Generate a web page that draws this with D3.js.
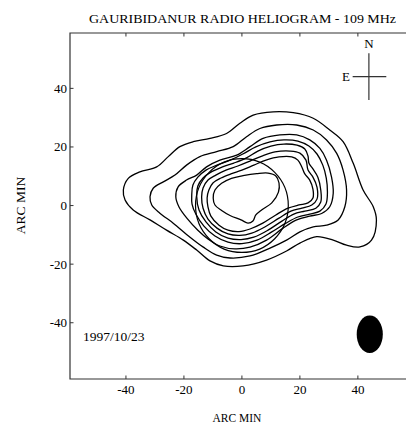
<!DOCTYPE html>
<html>
<head>
<meta charset="utf-8">
<script src="https://cdn.jsdelivr.net/npm/d3@7"></script>
<style>
  body { margin: 0; background: #fff; }
  svg { display: block; font-family: "Liberation Serif", "DejaVu Serif", serif; }
</style>
</head>
<body>
<svg width="406" height="426"></svg>
<script>
"use strict";

// heliogram contours, arc min (x east-west, y north-south), outer to inner
const contour1 = [[-40.9,5.3],[-39.2,9.3],[-35.2,11.5],[-29.4,13.2],[-25.4,16.7],[-21.4,20.1],[-16.8,21.8],[-11.0,22.9],[-5.3,24.6],[-0.7,28.1],[3.9,30.9],[10.8,32.0],[17.7,31.7],[24.6,29.8],[30.3,25.8],[34.9,21.8],[38.4,14.4],[41.8,5.3],[45.3,-0.4],[46.4,-4.9],[44.7,-11.8],[40.7,-14.1],[36.1,-13.5],[31.5,-11.8],[25.8,-10.6],[20.0,-12.8],[15.4,-15.5],[8.5,-18.6],[0.4,-20.6],[-6.4,-20.6],[-11.0,-18.9],[-15.6,-15.2],[-20.2,-11.8],[-26.0,-8.4],[-31.7,-4.9],[-37.5,-1.5],[-40.3,1.9]];
const contour2 = [[-31.7,3.0],[-30.6,5.9],[-27.1,8.1],[-23.1,10.4],[-19.1,13.8],[-14.5,16.7],[-8.7,18.4],[-3.0,20.1],[1.6,23.5],[6.2,26.3],[12.0,27.5],[18.9,27.5],[24.6,25.8],[29.2,22.4],[32.7,17.8],[34.9,12.1],[36.1,5.3],[35.5,-0.4],[33.2,-4.9],[29.2,-6.7],[24.6,-7.3],[20.0,-9.0],[15.4,-11.8],[9.7,-14.5],[2.8,-17.2],[-4.1,-17.9],[-8.7,-16.9],[-13.3,-14.2],[-17.9,-10.8],[-23.7,-6.0],[-28.3,-2.6],[-31.1,0.2]];
const contour3 = [[-22.8,3.0],[-22.0,6.4],[-19.1,8.7],[-15.6,10.4],[-12.2,13.2],[-7.6,15.5],[-1.8,17.2],[2.8,20.1],[7.3,22.9],[13.1,24.1],[18.9,24.1],[23.4,22.4],[26.9,19.5],[29.2,15.5],[30.9,9.8],[31.5,4.2],[30.3,-0.4],[27.5,-2.7],[23.4,-3.6],[18.9,-4.9],[14.2,-7.7],[8.5,-11.8],[2.8,-14.2],[-2.4,-14.8],[-7.6,-13.8],[-11.7,-11.4],[-15.2,-8.4],[-19.0,-4.3],[-21.7,-0.5]];
const contour4 = [[-17.3,3.6],[-16.9,7.0],[-15.2,9.7],[-12.4,12.1],[-8.6,13.8],[-4.1,15.5],[0.3,17.6],[4.8,20.0],[9.7,21.7],[14.5,22.4],[19.3,22.0],[23.1,20.3],[25.9,17.6],[27.9,13.8],[29.1,9.4],[29.5,4.6],[29.0,0.5],[26.9,-1.9],[23.4,-2.9],[19.3,-3.9],[15.2,-6.0],[10.3,-9.0],[5.2,-11.8],[0.0,-13.0],[-4.8,-12.5],[-9.3,-10.4],[-13.1,-7.0],[-15.9,-2.9],[-17.2,0.5]];
const contour5 = [[-15.6,3.2],[-15.2,6.7],[-13.4,9.4],[-10.7,11.4],[-6.9,13.1],[-2.8,14.5],[1.4,16.2],[5.5,18.6],[10.0,20.3],[14.5,21.0],[19.0,20.6],[21.7,19.3],[22.8,16.9],[23.1,14.5],[24.5,12.5],[26.2,9.7],[27.2,5.3],[27.2,1.2],[25.5,-0.9],[21.7,-1.9],[17.9,-2.9],[13.8,-5.3],[9.0,-8.4],[4.1,-10.8],[-0.3,-11.6],[-4.8,-11.1],[-9.0,-9.0],[-12.4,-5.6],[-14.8,-1.5]];
const contour6 = [[-13.9,2.9],[-13.4,6.0],[-11.7,8.7],[-9.0,10.4],[-5.5,12.1],[-1.4,13.5],[2.8,15.2],[6.9,16.9],[11.4,18.3],[16.6,18.6],[20.0,17.9],[22.1,15.5],[22.8,12.1],[24.5,9.7],[25.9,6.3],[25.9,2.2],[24.1,0.2],[20.7,-0.9],[16.9,-1.9],[12.8,-4.3],[7.9,-7.3],[3.4,-9.4],[-0.7,-10.2],[-4.8,-9.7],[-8.6,-7.7],[-11.7,-4.6],[-13.4,-0.9]];
const contour7 = [[-12.0,2.6],[-11.4,5.3],[-10.0,7.7],[-7.2,9.4],[-3.8,10.8],[0.0,12.1],[4.1,13.8],[8.3,15.5],[12.8,16.6],[17.2,16.6],[19.3,15.5],[20.7,13.1],[21.7,10.8],[23.4,8.7],[24.5,5.6],[24.5,2.6],[22.8,0.9],[19.7,0.2],[15.9,-0.9],[11.7,-3.2],[7.2,-6.0],[2.8,-8.0],[-1.0,-8.9],[-4.8,-8.4],[-7.9,-6.7],[-10.7,-3.6],[-11.7,-0.5]];
const contour8 = [[-9.9,2.6],[-9.3,5.3],[-7.0,7.6],[-3.6,9.3],[0.4,10.2],[5.1,10.9],[9.0,11.1],[11.7,10.1],[12.8,7.7],[12.6,4.6],[10.3,0.9],[6.9,-1.4],[4.8,-3.2],[3.8,-5.3],[2.1,-6.0],[-0.3,-4.9],[-4.1,-3.4],[-7.0,-1.7],[-9.3,0.2]];
const contours = [contour1, contour2, contour3, contour4, contour5, contour6, contour7, contour8];

const xTicks = [-40, -20, 0, 20, 40];
const yTicks = [-40, -20, 0, 20, 40];
const sunRadius = 16;              // optical disc, arc min
const beam = { x: 44.1, y: -43.9, rx: 4.5, ry: 6.4 };
const compass = { x: 43.8, y: 44.0 };
const dateLabel = "1997/10/23";
const title = "GAURIBIDANUR RADIO HELIOGRAM - 109 MHz";

const svg = d3.select("svg");
const pLeft = 70, pRight = 406, pTop = 33, pBottom = 379;

const x = d3.scaleLinear().domain([-59.3, 56.6]).range([pLeft, pRight]);
const y = d3.scaleLinear().domain([-59.2, 58.9]).range([pBottom, pTop]);

// frame (right side is cut off in the original)
svg.append("path")
    .attr("d", `M${pRight},${pTop}H${pLeft}V${pBottom}H${pRight}`)
    .attr("fill", "none")
    .attr("stroke", "#333")
    .attr("stroke-width", 1.2);

const tickLen = 3.5;
svg.selectAll(".xtick-b").data(xTicks).enter().append("line")
    .attr("x1", d => x(d)).attr("x2", d => x(d))
    .attr("y1", pBottom).attr("y2", pBottom - tickLen)
    .attr("stroke", "#333");
svg.selectAll(".xtick-t").data(xTicks).enter().append("line")
    .attr("x1", d => x(d)).attr("x2", d => x(d))
    .attr("y1", pTop).attr("y2", pTop + tickLen)
    .attr("stroke", "#333");
svg.selectAll(".ytick").data(yTicks).enter().append("line")
    .attr("x1", pLeft).attr("x2", pLeft + tickLen)
    .attr("y1", d => y(d)).attr("y2", d => y(d))
    .attr("stroke", "#333");

svg.selectAll(".xlab").data(xTicks).enter().append("text")
    .attr("x", d => x(d))
    .attr("y", 394)
    .attr("text-anchor", "middle")
    .attr("font-size", 13)
    .text(d => d);
svg.selectAll(".ylab").data(yTicks).enter().append("text")
    .attr("x", pLeft - 3)
    .attr("y", d => y(d) + 4.5)
    .attr("text-anchor", "end")
    .attr("font-size", 13)
    .text(d => d);

svg.append("text")
    .attr("x", 237).attr("y", 422)
    .attr("text-anchor", "middle")
    .attr("font-size", 11.5)
    .text("ARC MIN");
svg.append("text")
    .attr("transform", `translate(25,${y(0)}) rotate(-90)`)
    .attr("text-anchor", "middle")
    .attr("font-size", 13.5)
    .text("ARC MIN");

svg.append("text")
    .attr("x", 89).attr("y", 23)
    .attr("font-size", 13)
    .attr("textLength", 307)
    .attr("lengthAdjust", "spacingAndGlyphs")
    .text(title);

// contours
const line = d3.line()
    .x(d => x(d[0]))
    .y(d => y(d[1]))
    .curve(d3.curveCatmullRomClosed.alpha(0.5));

svg.selectAll(".contour").data(contours).enter().append("path")
    .attr("class", "contour")
    .attr("d", line)
    .attr("fill", "none")
    .attr("stroke", "#000")
    .attr("stroke-width", 1.3);

// solar disc
svg.append("ellipse")
    .attr("cx", x(0)).attr("cy", y(0))
    .attr("rx", x(sunRadius) - x(0))
    .attr("ry", y(0) - y(sunRadius))
    .attr("fill", "none")
    .attr("stroke", "#000")
    .attr("stroke-width", 1.2);

// beam
svg.append("ellipse")
    .attr("cx", x(beam.x)).attr("cy", y(beam.y))
    .attr("rx", x(beam.rx) - x(0))
    .attr("ry", y(0) - y(beam.ry))
    .attr("fill", "#000");

svg.append("text")
    .attr("x", x(-54.8)).attr("y", y(-46.2))
    .attr("font-size", 13.5)
    .text(dateLabel);

// compass
const cx = x(compass.x), cy = y(compass.y);
svg.append("line")
    .attr("x1", cx).attr("x2", cx)
    .attr("y1", y(compass.y + 8)).attr("y2", y(compass.y - 8))
    .attr("stroke", "#333").attr("stroke-width", 1.2);
svg.append("line")
    .attr("x1", x(compass.x - 5.6)).attr("x2", x(compass.x + 6))
    .attr("y1", cy).attr("y2", cy)
    .attr("stroke", "#333").attr("stroke-width", 1.2);
svg.append("text")
    .attr("x", cx).attr("y", y(compass.y + 9.7))
    .attr("text-anchor", "middle")
    .attr("font-size", 13)
    .text("N");
svg.append("text")
    .attr("x", x(compass.x - 6.5)).attr("y", cy + 4.5)
    .attr("text-anchor", "end")
    .attr("font-size", 13)
    .text("E");
</script>
</body>
</html>
